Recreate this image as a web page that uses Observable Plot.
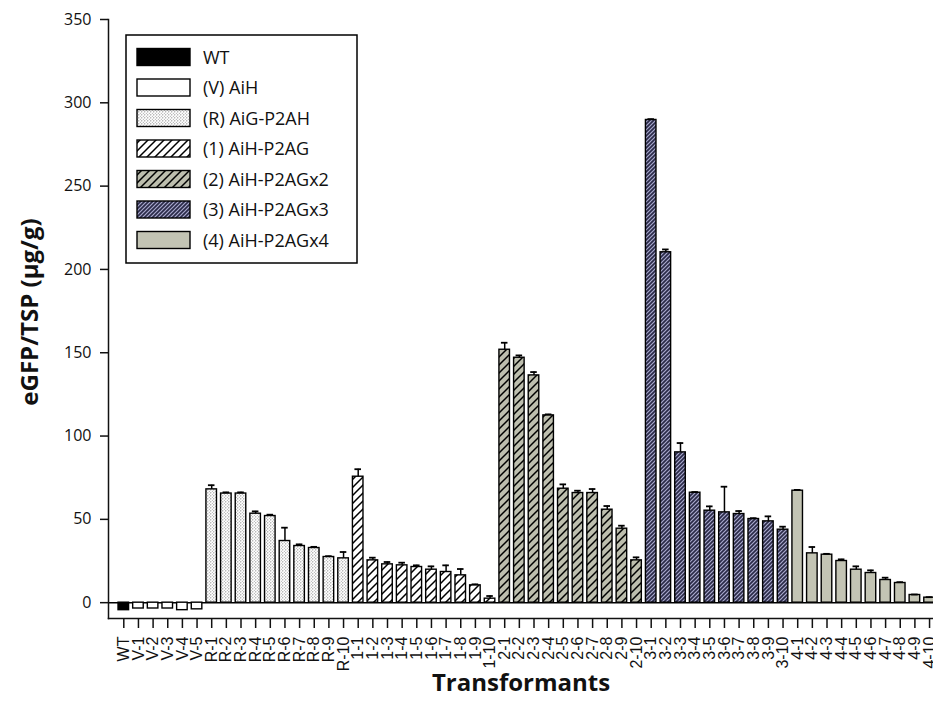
<!DOCTYPE html>
<html><head><meta charset="utf-8">
<script src="https://cdn.jsdelivr.net/npm/d3@7"></script>
<script src="https://cdn.jsdelivr.net/npm/@observablehq/plot@0.6"></script>
<style>
body{margin:0;background:#fff;}
#chart{position:relative;width:933px;height:718px;overflow:hidden;}
#chart svg{font-family:"Open Sans",sans-serif;color:#111;}
g[aria-label="x-axis label"] text{font-size:24px;font-weight:700;}
g[aria-label="x-axis tick label"] text{font-family:"Liberation Sans Narrow","Liberation Sans",Arial,sans-serif;}
</style>
</head><body>
<svg width="0" height="0" style="position:absolute">
  <defs>
    <pattern id="pR" patternUnits="userSpaceOnUse" width="3" height="3">
      <rect width="3" height="3" fill="#fff"/>
      <circle cx="0.8" cy="0.8" r="0.6" fill="#6e6e6e"/>
      <circle cx="2.3" cy="2.3" r="0.5" fill="#8e8e8e"/>
    </pattern>
    <pattern id="p1" patternUnits="userSpaceOnUse" width="8" height="8">
      <rect width="8" height="8" fill="#fff"/>
      <path d="M-2,2 L2,-2 M0,8 L8,0 M6,10 L10,6" stroke="#000" stroke-width="1.5"/>
    </pattern>
    <pattern id="p2" patternUnits="userSpaceOnUse" width="8" height="8">
      <rect width="8" height="8" fill="#bdbeae"/>
      <path d="M-2,2 L2,-2 M0,8 L8,0 M6,10 L10,6" stroke="#000" stroke-width="1.5"/>
    </pattern>
    <pattern id="p3" patternUnits="userSpaceOnUse" width="4" height="4">
      <rect width="4" height="4" fill="#2a2a48"/>
      <path d="M-1,1 L1,-1 M0,4 L4,0 M3,5 L5,3" stroke="#a8a8cc" stroke-width="1.2"/>
    </pattern>
  </defs>
</svg>
<div id="chart"></div>
<script>
const categories = ["WT","V-1","V-2","V-3","V-4","V-5",
  "R-1","R-2","R-3","R-4","R-5","R-6","R-7","R-8","R-9","R-10",
  "1-1","1-2","1-3","1-4","1-5","1-6","1-7","1-8","1-9","1-10",
  "2-1","2-2","2-3","2-4","2-5","2-6","2-7","2-8","2-9","2-10",
  "3-1","3-2","3-3","3-4","3-5","3-6","3-7","3-8","3-9","3-10",
  "4-1","4-2","4-3","4-4","4-5","4-6","4-7","4-8","4-9","4-10"];
const groups = ["WT","V","R","1","2","3","4"];
const groupNames = ["WT","(V) AiH","(R) AiG-P2AH","(1) AiH-P2AG","(2) AiH-P2AGx2","(3) AiH-P2AGx3","(4) AiH-P2AGx4"];
const values = [-4.5,
  -3.5,-3.5,-3.5,-4.5,-4,
  68,65.5,65.5,53.4,52,37,34,32.8,27.4,26.6,
  75.6,25.4,23,22.4,21.4,19.8,18.4,16.4,10.4,2.4,
  151.8,147,136.4,112.4,68.4,65.8,65.8,55.8,44.4,25.4,
  289.7,210.3,90.2,66,55.2,54.2,53.2,50.2,48.8,43.8,
  67.2,29.6,28.8,25,19.8,17.8,13.6,11.8,4.6,3];
const errors = [0,
  0,0,0,0,0,
  2.5,0.7,0.7,1.4,0.8,8,1,0.7,0.5,3.8,
  4.5,1.6,1.4,1.6,1,2,4,3.8,0.6,1.6,
  4.2,1.4,2,0.6,2.6,1.4,2.4,2.2,1.8,1.8,
  0.5,1.7,5.6,0.4,2.6,15.4,1.8,0.5,3,1.8,
  0.5,3.8,0.5,1,2,1.6,1.4,0.5,0.3,0.3];
const yTicks = [0,50,100,150,200,250,300,350];
const yLabel = "eGFP/TSP (μg/g)";
const xLabel = "Transformants";

const fills = {WT:"#000", V:"#fff", R:"url(#pR)", "1":"url(#p1)", "2":"url(#p2)", "3":"url(#p3)", "4":"#c3c4b4"};

const data = categories.map((c,i)=>({cat:c, group: i===0 ? "WT" : c.split("-")[0], value: values[i], err: errors[i]}));
const withErr = data.filter(d=>d.err>0);

// layout of band scale
const step = 14.65, pad = 0.28, firstCenter = 123.3;
const r0 = firstCenter - step*(pad + (1-pad)/2);
const r1 = r0 + step*(categories.length + pad);

const chart = Plot.plot({
  width: 933, height: 718,
  marginTop: 19, marginBottom: 100, marginLeft: 108, marginRight: 0,
  style: {fontFamily: '"Open Sans", sans-serif', background: "#fff"},
  x: {type:"band", domain: categories, range:[r0, r1], padding: pad, round:false},
  y: {domain:[-9.5,350]},
  marks: [
    Plot.ruleY([0], {stroke:"#000", strokeWidth:1.5}),
    ...groups.map(g => Plot.barY(data.filter(d=>d.group===g), {x:"cat", y:"value", fill: fills[g], stroke:"#000", strokeWidth:1.4})),
    Plot.ruleX(withErr, {x:"cat", y1:"value", y2:d=>d.value+d.err, stroke:"#000", strokeWidth:1.5}),
    Plot.tickY(withErr, {x:"cat", y:d=>d.value+d.err, stroke:"#000", strokeWidth:1.8, insetLeft:2, insetRight:2}),
    Plot.frame({anchor:"left", strokeWidth:1.5}),
    Plot.frame({anchor:"bottom", strokeWidth:1.5}),
    Plot.axisY({ticks: yTicks, tickSize:8, tickPadding:9, fontSize:16, strokeWidth:1.5, label:null}),
    Plot.text([yLabel], {frameAnchor:"left", textAnchor:"middle", rotate:-90, dx:-78, dy:-7, fontSize:24, fontWeight:"bold", fill:"#111"}),
    Plot.axisX({tickRotate:-90, tickSize:10, tickPadding:8, fontSize:16, strokeWidth:1.5, label:xLabel, labelAnchor:"center", labelOffset:72, labelArrow:"none"})
  ]
});
document.getElementById("chart").appendChild(chart);

// legend drawn inside the plot
const svg = d3.select(chart);
const lg = svg.append("g").attr("class","legend").attr("text-anchor","start");
lg.append("rect").attr("x",126).attr("y",35).attr("width",231).attr("height",228)
  .attr("fill","#fff").attr("stroke","#000").attr("stroke-width",1.5);
groups.forEach((g,i)=>{
  const cy = 57 + i*30.5;
  lg.append("rect").attr("x",137).attr("y",cy-8.5).attr("width",53).attr("height",17)
    .attr("fill",fills[g]).attr("stroke","#000").attr("stroke-width",1.4);
  lg.append("text").attr("x",203).attr("y",cy+6.5).attr("font-size",18)
    .attr("text-anchor","start").attr("fill","#111").text(groupNames[i]);
});
</script>
</body></html>
